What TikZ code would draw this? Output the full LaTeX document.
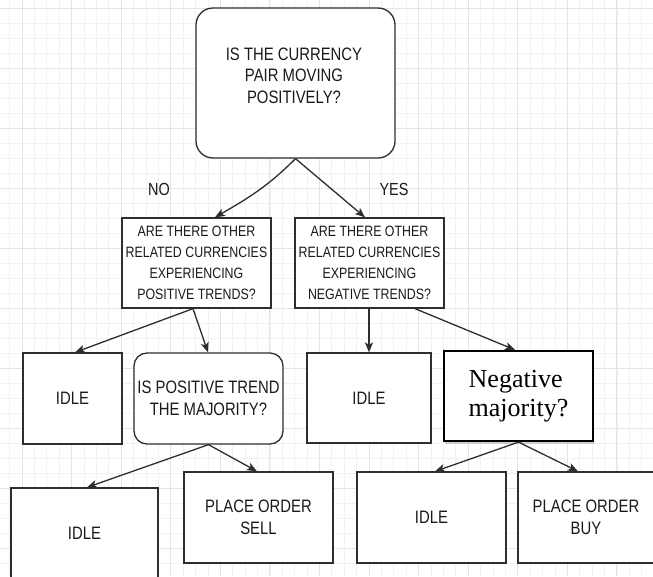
\documentclass[tikz,border=0pt]{standalone}
\usepackage{fontspec}
\setmainfont{Liberation Sans}[FakeStretch=0.826]
\newfontfamily\nmserif{Liberation Serif}
\usetikzlibrary{arrows.meta,shadows}
\definecolor{minorgrid}{HTML}{F2F2F2}
\definecolor{majorgrid}{HTML}{E4E4E4}
\definecolor{stroke}{HTML}{2E2E2E}
\definecolor{txt}{HTML}{1A1A1A}
\tikzset{
  box/.style={draw=stroke, line width=1.3pt, fill=white, inner sep=0pt, align=center, text=txt},
  rbox/.style={box, rounded corners=#1},
  lbl/.style={inner sep=0pt, align=center, text=txt},
  bigtxt/.style={font=\fontsize{18}{21.5}\selectfont},
  smalltxt/.style={font=\fontsize{15}{21}\selectfont},
  arr/.style={draw=stroke, line width=1.3pt, -{Stealth[length=10pt,width=8pt,inset=2.5pt]}},
  nmbox/.style={draw=black, line width=2.2pt, fill=white, inner sep=0pt, align=left,
    drop shadow={shadow xshift=1pt, shadow yshift=-3pt, fill=black!35}},
}
\begin{document}
\begin{tikzpicture}[x=1pt,y=-1pt]
\useasboundingbox (0,0) rectangle (653,576);
\fill[white] (0,0) rectangle (653,576);
% grid
\foreach \k in {-1,...,51} \draw[minorgrid, line width=0.8pt] ({22+12.395*\k},0) -- ({22+12.395*\k},576);
\foreach \k in {0,...,38} \draw[minorgrid, line width=0.8pt] (0,{8+15*\k}) -- (653,{8+15*\k});
\foreach \k in {0,...,12} \draw[majorgrid, line width=1pt] ({22+49.58*\k},0) -- ({22+49.58*\k},576);
\foreach \k in {0,...,9} \draw[majorgrid, line width=1pt] (0,{8+60*\k}) -- (653,{8+60*\k});

% top question
\node[rbox=17pt, minimum width=199pt, minimum height=150pt] (top) at (295.5,83) {};
\node[lbl, bigtxt] (toptext) at (294,75.5) {IS THE CURRENCY\\PAIR MOVING\\POSITIVELY?};

% labels
\node[lbl, font=\fontsize{17.5}{20}\selectfont] (no) at (159,189) {NO};
\node[lbl, font=\fontsize{17.5}{20}\selectfont] (yes) at (394,189) {YES};

% second row
\node[box, smalltxt, minimum width=149pt, minimum height=90pt] (L1) at (196.5,263)
  {ARE THERE OTHER\\RELATED CURRENCIES\\EXPERIENCING\\POSITIVE TRENDS?};
\node[box, smalltxt, minimum width=149pt, minimum height=90pt] (R1) at (369.5,263)
  {ARE THERE OTHER\\RELATED CURRENCIES\\EXPERIENCING\\NEGATIVE TRENDS?};

% third row
\node[box, bigtxt, minimum width=99pt, minimum height=91pt] (I1) at (72.5,398.5) {IDLE};
\node[rbox=13pt, bigtxt, minimum width=149pt, minimum height=91pt] (Q2) at (208.5,398.5)
  {IS POSITIVE TREND\\THE MAJORITY?};
\node[box, bigtxt, minimum width=124pt, minimum height=90pt] (I2) at (369,398) {IDLE};
\node[nmbox, minimum width=149pt, minimum height=90pt, font=\nmserif\fontsize{26}{29}\selectfont] (NM) at (518.5,396)
  {Negative\\majority?};

% fourth row
\node[box, bigtxt, minimum width=147pt, minimum height=90pt] (I3) at (84.5,533) {IDLE};
\node[box, bigtxt, minimum width=149pt, minimum height=91pt] (SELL) at (258.5,517.5) {PLACE ORDER\\SELL};
\node[box, bigtxt, minimum width=149pt, minimum height=91pt] (I4) at (431.5,517.5) {IDLE};
\node[box, bigtxt, minimum width=136pt, minimum height=91pt] (BUY) at (586,517.5) {PLACE ORDER\\BUY};

% connectors
\draw[arr] (top.south) to[out=-135,in=30] ([xshift=18.5pt]L1.north);
\draw[arr] (top.south) -- ([xshift=-4.5pt]R1.north);
\draw[arr] ([xshift=-3.5pt]L1.south) -- ([xshift=2.5pt]I1.north);
\draw[arr] ([xshift=-3.5pt]L1.south) -- ([xshift=-0.5pt]Q2.north);
\draw[arr] ([xshift=-0.5pt]R1.south) -- (I2.north);
\draw[arr] ([xshift=45.5pt]R1.south) -- ([xshift=-3.5pt]NM.north);
\draw[arr] (Q2.south) -- ([xshift=2.5pt]I3.north);
\draw[arr] (Q2.south) -- ([xshift=-1.5pt]SELL.north);
\draw[arr] (NM.south) -- ([xshift=3.5pt]I4.north);
\draw[arr] (NM.south) -- ([xshift=-8pt]BUY.north);
\end{tikzpicture}
\end{document}
